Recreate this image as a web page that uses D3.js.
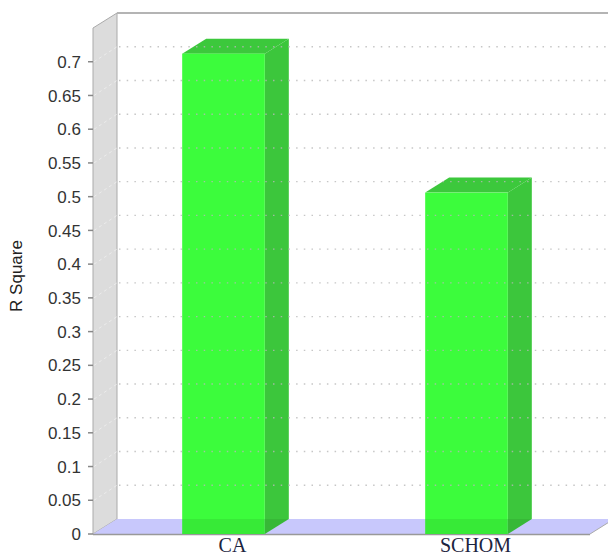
<!DOCTYPE html>
<html>
<head>
<script src="https://cdnjs.cloudflare.com/ajax/libs/d3/7.8.5/d3.min.js"></script>
<style>
  body { margin: 0; background: #fff; }
</style>
</head>
<body>
<div id="chart"></div>
<script>
// data
var categories = ["CA", "SCHOM"];
var values = [0.712, 0.506];
var yTicks = [0, 0.05, 0.1, 0.15, 0.2, 0.25, 0.3, 0.35, 0.4, 0.45, 0.5, 0.55, 0.6, 0.65, 0.7];
var yTitle = "R Square";

var W = 608, H = 557;
var dx = 24, dy = 15;          // 3d depth offset
var left = 93, right = 590, base = 534;

var svg = d3.select("#chart").append("svg")
  .attr("width", W).attr("height", H);

var y = d3.scaleLinear().domain([0, 0.75]).range([base, 28]);
var x = d3.scaleBand().domain(categories).range([102, 588])
  .paddingInner(0.66).paddingOuter(0.33);

// left wall
svg.append("polygon")
  .attr("points", [[left, base], [left, y(0.75)], [left + dx, y(0.75) - dy], [left + dx, base - dy]].join(" "))
  .attr("fill", "#dcdcdc").attr("stroke", "#aaa").attr("stroke-width", 1);

// wall diagonals
svg.selectAll(".wallgrid").data(yTicks.filter(function(d){ return d > 0; }))
  .enter().append("line")
  .attr("x1", left + 1).attr("x2", left + dx)
  .attr("y1", function(d){ return y(d); })
  .attr("y2", function(d){ return y(d) - dy; })
  .attr("stroke", "#ececec").attr("stroke-width", 1)
  .attr("stroke-dasharray", "3,3");

// back plane top border
svg.append("line")
  .attr("x1", left + dx).attr("x2", W)
  .attr("y1", y(0.75) - dy).attr("y2", y(0.75) - dy)
  .attr("stroke", "#b4b4b4").attr("stroke-width", 2);

// floor
svg.append("polygon")
  .attr("points", [[left, base], [left + dx, base - dy], [right + dx, base - dy], [right, base]].join(" "))
  .attr("fill", "#c8c8fc").attr("stroke", "none");
svg.append("line")
  .attr("x1", right).attr("y1", base).attr("x2", right + dx).attr("y2", base - dy)
  .attr("stroke", "#aaa");
svg.append("line")
  .attr("x1", left).attr("x2", right).attr("y1", base + 0.5).attr("y2", base + 0.5)
  .attr("stroke", "#999").attr("stroke-width", 1.5);

// bars
var bars = svg.selectAll(".bar").data(categories).enter().append("g");
bars.each(function(c, i) {
  var g = d3.select(this);
  var x0 = x(c), x1 = x(c) + x.bandwidth(), yt = y(values[i]);
  // side
  g.append("polygon")
    .attr("points", [[x1, yt], [x1 + dx, yt - dy], [x1 + dx, base - dy], [x1, base]].join(" "))
    .attr("fill", "#3cc63c");
  // top
  g.append("polygon")
    .attr("points", [[x0, yt], [x0 + dx, yt - dy], [x1 + dx, yt - dy], [x1, yt]].join(" "))
    .attr("fill", "#3cc83c");
  // front
  g.append("rect")
    .attr("x", x0).attr("y", yt).attr("width", x.bandwidth()).attr("height", base - yt)
    .attr("fill", "#3cfc3c");
  // shade where the bar stands in the floor
  g.append("polygon")
    .attr("points", [[x0, base - dy], [x1 + dx, base - dy], [x1, base], [x0, base]].join(" "))
    .attr("fill", "#000").attr("fill-opacity", 0.07);
});

// back gridlines, drawn faintly over the bars too
svg.selectAll(".grid").data(yTicks.filter(function(d){ return d > 0; }))
  .enter().append("line")
  .attr("x1", left + dx + 2).attr("x2", W)
  .attr("y1", function(d){ return y(d) - dy; })
  .attr("y2", function(d){ return y(d) - dy; })
  .attr("stroke", "#b8b8b8").attr("stroke-width", 1.4)
  .attr("stroke-opacity", 0.8)
  .attr("stroke-dasharray", "1.5,6.2");

// y axis ticks and labels
var ax = svg.append("g");
ax.selectAll("line").data(yTicks).enter().append("line")
  .attr("x1", left - 5).attr("x2", left)
  .attr("y1", function(d){ return y(d); }).attr("y2", function(d){ return y(d); })
  .attr("stroke", "#888").attr("stroke-width", 1.5);
ax.selectAll("text").data(yTicks).enter().append("text")
  .attr("x", 81).attr("y", function(d){ return y(d); })
  .attr("dy", "0.36em")
  .attr("text-anchor", "end")
  .attr("font-family", "Liberation Sans, Arial, sans-serif")
  .attr("font-size", 17).attr("fill", "#333")
  .text(function(d){ return d; });

svg.append("text")
  .attr("transform", "translate(22,276) rotate(-90)")
  .attr("text-anchor", "middle")
  .attr("font-family", "Liberation Sans, Arial, sans-serif")
  .attr("font-size", 17).attr("fill", "#222")
  .text(yTitle);

// category labels
svg.selectAll(".xl").data(categories).enter().append("text")
  .attr("x", function(c){ return x(c) + x.bandwidth() / 2 + 9; })
  .attr("y", 552)
  .attr("text-anchor", "middle")
  .attr("font-family", "Liberation Serif, Times New Roman, serif")
  .attr("font-size", 20).attr("fill", "#1c2440")
  .text(function(c){ return c; });
</script>
</body>
</html>
